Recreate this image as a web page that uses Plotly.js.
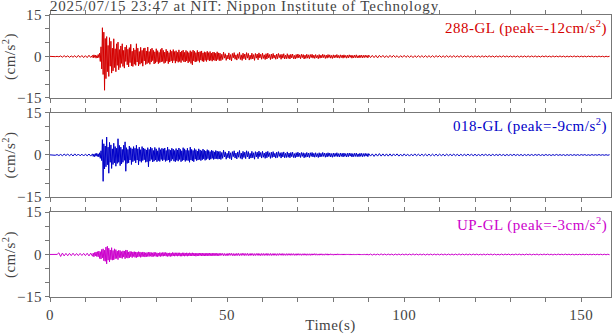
<!DOCTYPE html>
<html><head><meta charset="utf-8">
<script src="https://cdn.plot.ly/plotly-3.0.1.min.js"></script>
<style>
html,body{margin:0;padding:0;background:#fff;}
#plot{width:613px;height:334px;}
svg text{letter-spacing:0.5px;}
svg text.gtitle{letter-spacing:0.8px;}
</style>
</head><body><div id="plot"></div>
<script>
// Sampling of the traces: [start s, step s, count]
const sampleSegments = [[0, 0.5, 24], [12, 0.2, 180], [48, 0.25, 168], [90, 0.5, 137]];
const chartTitle = "2025/07/15 23:47 at NIT: Nippon Institute of Technology";
const stationNames = ["288-GL", "018-GL", "UP-GL"];
const peakValues = [-12, -9, -3];

const acc288 = [
// 0 - 11.5 s (0.5 s)
0.05,-0.05,0.08,-0.06,0.05,-0.1,0.2,-0.25,0.3,-0.2,0.25,-0.3,0.2,-0.25,0.3,-0.35,0.4,-0.3,0.35,-0.4,0.3,-0.4,0.45,-0.35,
// 12 - 47.8 s (0.2 s)
0.4,-0.5,0.6,-0.3,0.5,-0.6,0.3,-0.5,0.7,-0.4,1.2,-1.8,3.5,-4.5,10.4,-6.5,8.8,-12.2,6.5,-8.0,
7.2,-5.5,4.0,-7.2,6.8,-3.5,5.5,-6.0,3.0,-5.2,6.4,-4.0,2.8,-5.5,4.6,-3.2,5.2,-4.8,2.5,-4.0,
3.8,-2.5,4.6,-3.6,2.2,-4.2,3.4,-1.8,4.0,-3.0,2.6,-3.8,3.2,-2.2,4.4,-3.4,1.9,-3.6,3.0,-2.8,
2.4,-3.2,4.6,-2.0,3.0,-3.4,1.8,-2.8,3.3,-2.4,2.2,-3.5,2.9,-1.6,3.1,-2.9,2.0,-2.6,3.4,-2.2,
1.8,-2.8,2.6,-2.0,3.0,-1.5,2.2,-2.7,1.7,-2.4,2.8,-1.9,2.1,-2.6,1.5,-2.2,2.5,-2.0,3.0,-1.8,
2.2,-2.5,1.6,-2.2,2.6,-1.7,2.0,-2.6,1.4,-2.0,2.4,-1.6,1.9,-2.3,2.5,-1.5,1.8,-2.4,2.1,-1.7,
1.5,-2.1,2.4,-1.8,1.6,-2.2,2.0,-1.4,2.3,-1.9,1.5,-2.0,2.2,-1.6,1.8,-2.3,1.4,-1.8,2.1,-2.5,
1.7,-3.0,2.3,-1.6,1.9,-2.0,1.4,-1.8,2.2,-1.5,1.6,-2.1,1.8,-1.3,2.0,-1.7,1.3,-1.9,1.7,-1.4,
1.5,-1.8,1.9,-1.2,1.4,-1.6,1.8,-1.4,1.2,-1.7,1.6,-1.3,1.5,-1.5,1.2,-1.6,1.7,-1.1,1.3,-1.5,
// 48 - 89.75 s (0.25 s)
1.2,-1.5,0.8,-1.1,1.6,-0.6,1.0,-1.4,0.5,-0.9,1.3,-1.2,0.7,-1.6,1.1,-0.5,1.4,-1.0,0.6,-1.3,
1.0,-0.7,1.5,-1.1,0.6,-1.4,1.2,-0.8,0.9,-1.2,1.4,-0.6,1.1,-1.3,0.5,-1.0,1.2,-0.9,0.7,-1.4,
1.1,-0.6,0.9,-1.2,1.3,-0.5,0.8,-1.0,1.2,-0.7,0.6,-1.1,1.0,-0.9,1.2,-0.5,0.7,-1.1,0.9,-0.8,
1.1,-0.6,0.5,-1.0,0.9,-0.8,1.1,-0.4,0.7,-1.0,0.8,-0.6,1.0,-0.9,0.5,-0.8,1.0,-0.7,0.6,-0.9,
0.8,-0.5,0.9,-0.8,0.4,-0.9,0.7,-0.6,0.9,-0.5,0.6,-0.8,0.8,-0.4,0.7,-0.9,0.5,-0.7,0.8,-0.6,
0.6,-0.8,0.7,-0.4,0.8,-0.6,0.5,-0.7,0.7,-0.5,0.4,-0.8,0.7,-0.6,0.5,-0.5,0.8,-0.4,0.6,-0.7,
0.5,-0.6,0.7,-0.4,0.6,-0.6,0.4,-0.7,0.6,-0.5,0.5,-0.4,0.7,-0.5,0.4,-0.6,0.6,-0.4,0.5,-0.6,
0.6,-0.4,0.4,-0.6,0.5,-0.5,0.6,-0.3,0.5,-0.6,0.4,-0.5,0.5,-0.4,0.6,-0.5,0.3,-0.5,0.5,-0.4,
0.5,-0.5,0.4,-0.4,0.5,-0.3,0.4,-0.5,
// 90 - 158 s (0.5 s)
0.5,-0.4,0.4,-0.4,0.4,-0.5,0.4,-0.3,0.4,-0.4,0.3,-0.4,0.4,-0.3,0.4,-0.3,0.3,-0.4,0.3,-0.3,
0.4,-0.3,0.3,-0.3,0.3,-0.4,0.3,-0.3,0.3,-0.3,0.3,-0.3,0.3,-0.3,0.3,-0.3,0.3,-0.3,0.3,-0.2,
0.3,-0.3,0.25,-0.3,0.3,-0.25,0.25,-0.3,0.3,-0.25,0.25,-0.25,0.3,-0.25,0.25,-0.2,0.25,-0.25,0.2,-0.25,
0.25,-0.2,0.2,-0.25,0.25,-0.2,0.2,-0.2,0.25,-0.2,0.2,-0.25,0.2,-0.2,0.2,-0.2,0.25,-0.2,0.2,-0.2,
0.2,-0.2,0.2,-0.2,0.2,-0.25,0.2,-0.2,0.2,-0.2,0.2,-0.2,0.2,-0.15,0.2,-0.2,0.15,-0.2,0.2,-0.15,
0.2,-0.15,0.15,-0.2,0.2,-0.15,0.15,-0.15,0.2,-0.15,0.15,-0.2,0.15,-0.15,0.15,-0.15,0.2,-0.15,0.15,-0.15,
0.15,-0.15,0.15,-0.15,0.15,-0.1,0.15,-0.15,0.1,-0.15,0.15,-0.1,0.1,-0.15,0.1,-0.1,0.1
];

const acc018 = [
// 0 - 11.5 s
0.05,-0.05,0.05,-0.1,0.15,-0.2,0.2,-0.25,0.3,-0.2,0.35,-0.3,0.3,-0.35,0.4,-0.3,0.35,-0.3,0.3,-0.35,0.3,-0.3,0.35,-0.4,
// 12 - 47.8 s
0.4,-0.5,0.3,-0.6,0.5,-0.4,0.6,-0.5,0.4,-0.7,0.8,-1.2,1.5,-2.0,5.5,-9.4,4.0,-5.0,3.2,-4.2,
6.4,-3.5,2.8,-6.5,4.5,-2.6,3.6,-4.8,2.2,-3.4,4.2,-2.8,3.0,-4.0,2.4,-3.0,5.8,-2.6,3.4,-3.8,
2.8,-3.2,2.0,-2.6,3.5,-1.9,4.7,-5.8,2.6,-3.0,2.0,-2.8,3.2,-1.8,2.6,-3.4,2.2,-2.4,3.0,-2.0,
2.4,-2.8,3.5,-1.8,2.2,-3.5,2.8,-2.2,1.9,-2.6,3.0,-2.0,2.5,-1.7,2.2,-2.6,1.8,-2.4,2.6,-4.2,
2.0,-2.2,2.8,-1.6,2.4,-2.5,1.6,-2.2,2.7,-1.8,2.2,-2.4,1.5,-2.0,2.6,-2.3,1.9,-1.6,2.4,-2.1,
2.2,-1.7,2.5,-2.3,1.6,-2.0,2.8,-1.8,2.0,-2.6,1.7,-2.1,2.4,-1.5,2.1,-2.2,1.6,-2.4,2.3,-1.9,
1.8,-2.2,2.5,-1.6,2.0,-2.4,1.5,-2.0,2.6,-1.8,2.2,-2.3,1.7,-1.9,2.4,-2.0,1.6,-2.6,2.8,-1.8,
2.0,-2.1,1.6,-2.4,2.3,-1.5,1.9,-2.0,1.4,-1.8,2.2,-1.6,1.8,-2.0,1.5,-1.7,2.1,-1.4,1.7,-1.9,
1.4,-1.6,1.9,-1.3,1.6,-1.8,1.2,-1.5,1.7,-1.2,1.5,-1.6,1.1,-1.4,1.6,-1.3,1.4,-1.5,1.2,-1.4,
// 48 - 89.75 s
1.3,-1.6,0.9,-1.2,1.7,-0.7,1.1,-1.5,0.6,-1.0,1.4,-1.3,0.8,-1.7,1.2,-0.6,1.5,-1.1,0.7,-1.4,
1.1,-0.8,1.6,-1.2,0.7,-1.5,1.3,-0.9,1.0,-1.3,1.5,-0.7,1.2,-1.4,0.6,-1.1,1.3,-1.0,0.8,-1.5,
1.2,-0.7,1.0,-1.3,1.4,-0.6,0.9,-1.1,1.3,-0.8,0.7,-1.2,1.1,-1.0,1.3,-0.6,0.8,-1.2,1.0,-0.9,
1.2,-0.7,0.6,-1.1,1.0,-0.9,1.2,-0.5,0.8,-1.1,0.9,-0.7,1.1,-1.0,0.6,-0.9,1.1,-0.8,0.7,-1.0,
0.9,-0.6,1.0,-0.9,0.5,-1.0,0.8,-0.7,1.0,-0.6,0.7,-0.9,0.9,-0.5,0.8,-1.0,0.6,-0.8,0.9,-0.7,
0.7,-0.9,0.8,-0.5,0.9,-0.7,0.6,-0.8,0.8,-0.6,0.5,-0.9,0.8,-0.7,0.6,-0.6,0.9,-0.5,0.7,-0.8,
0.6,-0.7,0.8,-0.5,0.7,-0.7,0.5,-0.8,0.7,-0.6,0.6,-0.5,0.8,-0.6,0.5,-0.7,0.7,-0.5,0.6,-0.7,
0.7,-0.5,0.5,-0.7,0.6,-0.6,0.7,-0.4,0.6,-0.7,0.5,-0.6,0.6,-0.5,0.7,-0.6,0.4,-0.6,0.6,-0.5,
0.6,-0.6,0.5,-0.5,0.6,-0.4,0.5,-0.6,
// 90 - 158 s
0.5,-0.4,0.4,-0.5,0.4,-0.4,0.5,-0.4,0.4,-0.4,0.4,-0.4,0.4,-0.4,0.4,-0.3,0.4,-0.4,0.3,-0.4,
0.4,-0.3,0.3,-0.4,0.3,-0.3,0.4,-0.3,0.3,-0.3,0.3,-0.3,0.3,-0.3,0.3,-0.3,0.3,-0.3,0.3,-0.3,
0.3,-0.25,0.25,-0.3,0.3,-0.25,0.25,-0.25,0.3,-0.25,0.25,-0.3,0.25,-0.25,0.25,-0.25,0.3,-0.2,0.25,-0.25,
0.25,-0.25,0.2,-0.25,0.25,-0.2,0.25,-0.2,0.2,-0.25,0.25,-0.2,0.2,-0.2,0.25,-0.2,0.2,-0.25,0.2,-0.2,
0.2,-0.2,0.25,-0.2,0.2,-0.2,0.2,-0.25,0.2,-0.2,0.2,-0.2,0.2,-0.2,0.2,-0.15,0.2,-0.2,0.15,-0.2,
0.2,-0.15,0.15,-0.2,0.15,-0.15,0.2,-0.15,0.15,-0.15,0.15,-0.2,0.15,-0.15,0.15,-0.15,0.15,-0.15,0.15,-0.15,
0.15,-0.1,0.15,-0.15,0.1,-0.15,0.15,-0.1,0.1,-0.1,0.15,-0.1,0.1,-0.1,0.1,-0.1,0.1
];

const accUP = [
// 0 - 11.5 s
0.02,-0.02,0.03,-0.03,0.03,0.6,-0.7,0.5,-0.5,0.4,-0.45,0.4,-0.4,0.45,-0.4,0.35,-0.4,0.4,-0.35,0.4,-0.4,0.45,-0.5,0.5,
// 12 - 47.8 s
-0.6,0.5,-0.8,0.7,-0.5,0.9,-0.7,1.0,-0.8,1.2,-1.4,1.0,-1.6,1.8,-1.2,2.0,-2.2,1.5,-2.4,2.6,
-3.3,2.9,-2.0,2.2,-2.6,1.6,-1.8,2.4,-2.0,1.4,-1.9,2.0,-1.5,1.7,-1.4,1.2,-1.8,1.5,-1.1,1.4,
-1.2,1.0,-1.4,1.3,-0.9,1.2,-1.5,1.6,-1.1,1.5,-1.3,0.9,-1.2,1.1,-0.8,1.0,-1.1,0.9,-0.7,1.0,
-1.0,0.9,-1.1,0.8,-0.9,1.0,-0.7,0.9,-1.0,0.7,-0.8,0.9,-0.7,0.8,-0.9,0.6,-0.8,0.7,-0.7,0.8,
-0.7,0.8,-0.6,0.7,-0.8,0.6,-0.7,0.8,-0.6,0.7,-0.7,0.6,-0.8,0.5,-0.6,0.7,-0.7,0.6,-0.6,0.7,
-0.6,0.7,-0.5,0.7,-0.6,0.6,-0.7,0.5,-0.6,0.6,-0.7,0.5,-0.6,0.7,-0.5,0.6,-0.6,0.6,-0.5,0.6,
-0.6,0.6,-0.5,0.6,-0.6,0.5,-0.6,0.6,-0.5,0.6,-0.6,0.5,-0.5,0.6,-0.6,0.5,-0.5,0.6,-0.5,0.5,
-0.5,0.6,-0.5,0.5,-0.5,0.5,-0.6,0.4,-0.5,0.5,-0.5,0.5,-0.4,0.5,-0.5,0.5,-0.5,0.4,-0.5,0.5,
-0.5,0.4,-0.5,0.5,-0.4,0.5,-0.5,0.4,-0.4,0.5,-0.5,0.4,-0.4,0.5,-0.4,0.4,-0.5,0.4,-0.4,0.4,
// 48 - 89.75 s
-0.4,0.45,-0.3,0.4,-0.45,0.35,-0.4,0.3,-0.45,0.4,-0.35,0.45,-0.3,0.4,-0.4,0.35,-0.45,0.3,-0.4,0.4,
-0.35,0.4,-0.4,0.3,-0.35,0.45,-0.3,0.4,-0.4,0.35,-0.3,0.4,-0.4,0.3,-0.35,0.4,-0.3,0.35,-0.4,0.3,
-0.35,0.35,-0.3,0.4,-0.35,0.3,-0.4,0.35,-0.3,0.35,-0.35,0.3,-0.3,0.4,-0.35,0.3,-0.3,0.35,-0.35,0.3,
-0.3,0.35,-0.3,0.3,-0.35,0.3,-0.3,0.35,-0.25,0.3,-0.3,0.35,-0.3,0.25,-0.3,0.3,-0.3,0.3,-0.25,0.3,
-0.3,0.3,-0.25,0.3,-0.3,0.25,-0.3,0.3,-0.25,0.3,-0.25,0.25,-0.3,0.25,-0.25,0.3,-0.25,0.25,-0.3,0.25,
-0.25,0.25,-0.3,0.25,-0.25,0.25,-0.2,0.3,-0.25,0.25,-0.25,0.2,-0.25,0.25,-0.2,0.25,-0.25,0.2,-0.25,0.25,
-0.2,0.25,-0.25,0.2,-0.2,0.25,-0.2,0.2,-0.25,0.2,-0.2,0.2,-0.2,0.25,-0.2,0.2,-0.2,0.2,-0.2,0.2,
-0.2,0.2,-0.2,0.2,-0.15,0.2,-0.2,0.2,-0.2,0.15,-0.2,0.2,-0.2,0.15,-0.2,0.2,-0.15,0.2,-0.2,0.15,
-0.2,0.15,-0.2,0.2,-0.15,0.15,-0.2,0.15,
// 90 - 158 s
-0.15,0.15,-0.2,0.15,-0.15,0.15,-0.15,0.2,-0.15,0.15,-0.15,0.15,-0.15,0.15,-0.2,0.15,-0.15,0.15,-0.15,0.15,
-0.15,0.15,-0.15,0.15,-0.15,0.2,-0.15,0.15,-0.15,0.15,-0.15,0.15,-0.2,0.15,-0.15,0.15,-0.15,0.15,-0.15,0.15,
-0.15,0.15,-0.15,0.15,-0.15,0.15,-0.15,0.15,-0.15,0.15,-0.15,0.2,-0.15,0.15,-0.15,0.15,-0.15,0.15,-0.15,0.15,
-0.15,0.15,-0.15,0.1,-0.15,0.15,-0.15,0.15,-0.1,0.15,-0.15,0.15,-0.15,0.1,-0.15,0.15,-0.15,0.15,-0.1,0.15,
-0.15,0.1,-0.15,0.15,-0.1,0.15,-0.15,0.1,-0.15,0.15,-0.1,0.15,-0.15,0.1,-0.1,0.15,-0.15,0.1,-0.1,0.15,
-0.1,0.15,-0.1,0.1,-0.15,0.1,-0.1,0.15,-0.1,0.1,-0.1,0.15,-0.1,0.1,-0.1,0.1,-0.15,0.1,-0.1,0.1,
-0.1,0.1,-0.1,0.1,-0.1,0.1,-0.1,0.1,-0.1,0.1,-0.1,0.1,-0.1,0.1,-0.1,0.1,-0.1
];

// sample times from the sampling segments
const sampleTimes = [];
sampleSegments.forEach(([start, step, n]) => {
  for (let k = 0; k < n; k++) sampleTimes.push(+(start + k * step).toFixed(2));
});

const seriesValues = [acc288, acc018, accUP];
const seriesColors = ["#d40000", "#0000c8", "#cc00cc"];
const FONT = "Liberation Serif, Times New Roman, serif";
const FS = 15;
const GREY = "#444444";
const AXC = "#777777";

const traces = seriesValues.map((vals, i) => ({
  type: "scatter", mode: "lines",
  x: sampleTimes.slice(0, vals.length),
  y: vals,
  xaxis: i === 0 ? "x" : "x" + (i + 1),
  yaxis: i === 0 ? "y" : "y" + (i + 1),
  line: {color: seriesColors[i], width: 1},
  hoverinfo: "skip"
}));

const domains = [[0.7057, 1], [0.3546, 0.6525], [0, 0.3014]];
const layout = {
  width: 613, height: 334,
  margin: {l: 50, r: 2, t: 15, b: 37},
  paper_bgcolor: "#ffffff", plot_bgcolor: "#ffffff",
  showlegend: false,
  font: {family: FONT, size: FS, color: GREY},
  title: {text: chartTitle, x: 0, xref: "paper", xanchor: "left", y: 0.999, yref: "container", yanchor: "top", pad: {t: 0, l: 0},
          font: {family: FONT, size: FS, color: GREY}},
  annotations: []
};

for (let i = 0; i < 3; i++) {
  const sx = i === 0 ? "" : String(i + 1);
  layout["xaxis" + sx] = {
    domain: [0, 1], anchor: "y" + sx, range: [0, 158.4],
    tickmode: "linear", tick0: 0, dtick: 50,
    minor: {tickmode: "linear", tick0: 0, dtick: 10, ticks: "outside", ticklen: 4, tickcolor: AXC, showgrid: false},
    showticklabels: i === 2, ticks: "outside", ticklen: 4, tickcolor: AXC,
    showline: true, linecolor: AXC, linewidth: 1, mirror: "ticks",
    showgrid: false, zeroline: false,
    tickfont: {family: FONT, size: FS, color: GREY},
    title: i === 2 ? {text: "Time(s)", standoff: 1, font: {family: FONT, size: FS, color: GREY}} : {text: ""}
  };
  if (i > 0) layout["xaxis" + sx].matches = "x";
  layout["yaxis" + sx] = {
    domain: domains[i], anchor: "x" + sx, range: [-15, 15],
    tickmode: "linear", tick0: -15, dtick: 15,
    minor: {tickmode: "linear", tick0: -15, dtick: 5, ticks: "outside", ticklen: 4, tickcolor: AXC, showgrid: false},
    ticks: "outside", ticklen: 4, tickcolor: AXC,
    showline: true, linecolor: AXC, linewidth: 1, mirror: true,
    showgrid: false, zeroline: false,
    tickfont: {family: FONT, size: FS, color: GREY},
    title: {text: "(cm/s<sup>2</sup>)", standoff: 5, font: {family: FONT, size: FS, color: GREY}}
  };
  layout.annotations.push({
    text: stationNames[i] + " (peak=" + peakValues[i] + "cm/s<sup>2</sup>)",
    xref: "x" + sx + " domain", yref: "y" + sx + " domain",
    x: 0.997, y: 0.99, xanchor: "right", yanchor: "top", showarrow: false,
    font: {family: FONT, size: FS, color: seriesColors[i]}
  });
}

Plotly.newPlot("plot", traces, layout, {staticPlot: true, displayModeBar: false});
</script>
</body></html>
